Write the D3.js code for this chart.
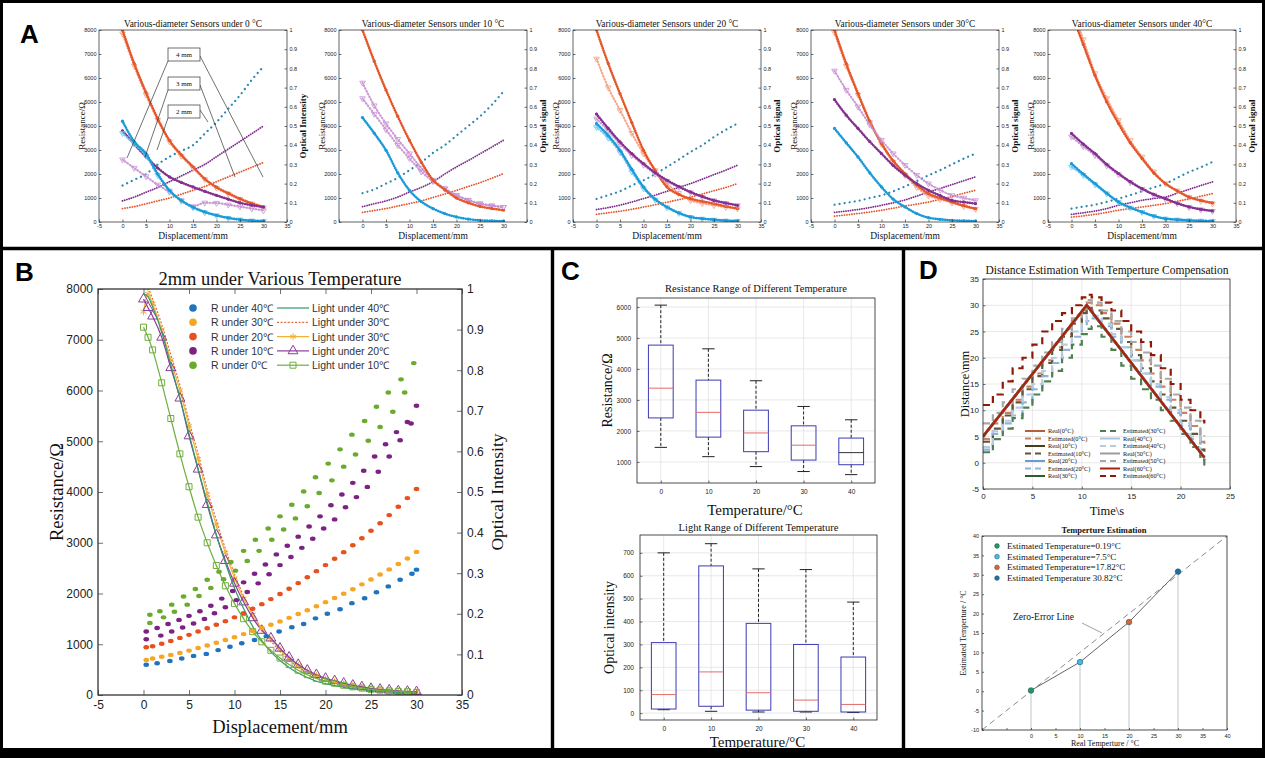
<!DOCTYPE html>
<html>
<head>
<meta charset="utf-8">
<script src="https://cdn.jsdelivr.net/npm/d3@7/dist/d3.min.js"></script>
<style>
  body { margin: 0; background: #fff; }
  svg { display: block; }
</style>
</head>
<body>
<svg id="fig" width="1265" height="758"></svg>
<script>
'use strict';

// ---------- panel A data: resistance (ohm) and optical signal (0-1) ----------
const dispA = [0, 2.5, 5, 7.5, 10, 12.5, 15, 17.5, 20, 22.5, 25, 27.5, 30];
const tempsA = ['0 °C', '10 °C', '20 °C', '30°C', '40°C'];
const rightLabelsA = ['Optical Intensity', 'Optical signal', 'Optical signal', 'Optical signal', 'Optical signal'];

const a0Orange  = [8000, 6600, 5400, 4300, 3400, 2800, 2300, 1800, 1450, 1200, 970, 780, 630];
const a0OrangeL = [7850, 6500, 5300, 4250, 3350, 2750, 2250, 1780, 1420, 1170, 940, 760, 600];
const a0Purple  = [3800, 3250, 2720, 2250, 1880, 1650, 1460, 1280, 1110, 950, 800, 700, 620];
const a0PurpleL = [2600, 2250, 1900, 1550, 1250, 900, 650, 800, 790, 720, 640, 560, 480];
const a0Blue    = [4200, 3350, 2850, 2000, 1320, 900, 620, 420, 280, 170, 100, 60, 40];
const a0BlueL   = [3700, 3250, 2750, 1950, 1300, 880, 600, 400, 270, 160, 95, 55, 35];
const a0RiseBlue   = [0.19, 0.22, 0.25, 0.30, 0.34, 0.37, 0.40, 0.46, 0.52, 0.59, 0.66, 0.74, 0.81];
const a0RisePurple = [0.11, 0.13, 0.155, 0.18, 0.21, 0.24, 0.27, 0.30, 0.34, 0.38, 0.42, 0.46, 0.50];
const a0RiseOrange = [0.07, 0.08, 0.095, 0.11, 0.125, 0.145, 0.165, 0.185, 0.21, 0.235, 0.26, 0.285, 0.31];

const a1Orange  = [8000, 6700, 5500, 4400, 3400, 2500, 1750, 1350, 1000, 800, 650, 560, 490];
const a1PurpleL = [5800, 4850, 4100, 3450, 2850, 2250, 1750, 1400, 1120, 920, 770, 680, 620];
const a1PurpleL2 = [5150, 4500, 3850, 3200, 2650, 2100, 1700, 1380, 1100, 900, 760, 680, 620];
const a1Blue    = [4350, 3700, 2990, 2050, 1320, 850, 560, 350, 210, 120, 70, 50, 40];
const a1RiseBlue   = [0.15, 0.17, 0.20, 0.23, 0.27, 0.31, 0.36, 0.40, 0.45, 0.50, 0.55, 0.61, 0.68];
const a1RisePurple = [0.08, 0.095, 0.11, 0.13, 0.156, 0.18, 0.21, 0.25, 0.287, 0.32, 0.355, 0.39, 0.426];
const a1RiseOrange = [0.05, 0.06, 0.07, 0.083, 0.096, 0.11, 0.128, 0.146, 0.165, 0.185, 0.205, 0.228, 0.252];

const a2Orange  = [8000, 6600, 5350, 4150, 2990, 2150, 1460, 1150, 970, 860, 765, 650, 560];
const a2OrangeL = [6800, 5600, 4660, 3700, 2850, 2150, 1600, 1200, 900, 780, 695, 620, 560];
const a2Purple  = [4500, 3900, 3340, 2850, 2430, 2050, 1740, 1480, 1250, 1060, 900, 790, 695];
const a2PurpleL = [4300, 3800, 3250, 2780, 2380, 2000, 1700, 1450, 1230, 1040, 890, 780, 690];
const a2Blue    = [4100, 3600, 2990, 2200, 1460, 950, 626, 380, 210, 140, 97, 60, 42];
const a2BlueL   = [3950, 3500, 2900, 2100, 1400, 920, 600, 370, 200, 130, 90, 55, 40];
const a2RiseBlue   = [0.12, 0.14, 0.16, 0.19, 0.217, 0.25, 0.287, 0.325, 0.365, 0.40, 0.443, 0.48, 0.513];
const a2RisePurple = [0.065, 0.075, 0.088, 0.104, 0.122, 0.14, 0.16, 0.18, 0.20, 0.223, 0.247, 0.27, 0.296];
const a2RiseOrange = [0.04, 0.048, 0.056, 0.066, 0.078, 0.09, 0.103, 0.116, 0.13, 0.146, 0.163, 0.18, 0.20];

const a3Orange  = [8000, 6600, 5360, 4200, 3270, 2550, 2020, 1550, 1180, 1000, 835, 680, 556];
const a3OrangeL = [7900, 6500, 5300, 4150, 3250, 2500, 1950, 1450, 1100, 950, 800, 650, 540];
const a3PurpleL = [6300, 5500, 4800, 4050, 3410, 2850, 2370, 1950, 1600, 1330, 1110, 1000, 900];
const a3Purple  = [5100, 4450, 3900, 3350, 2850, 2350, 1950, 1600, 1320, 1100, 900, 830, 765];
const a3Blue    = [3900, 3300, 2710, 2050, 1460, 950, 626, 350, 180, 110, 70, 50, 42];
const a3RiseBlue   = [0.09, 0.10, 0.11, 0.125, 0.139, 0.16, 0.185, 0.213, 0.243, 0.27, 0.30, 0.33, 0.356];
const a3RisePurple = [0.05, 0.057, 0.065, 0.075, 0.087, 0.10, 0.115, 0.135, 0.156, 0.175, 0.195, 0.215, 0.235];
const a3RiseOrange = [0.03, 0.037, 0.044, 0.052, 0.061, 0.072, 0.083, 0.093, 0.104, 0.118, 0.133, 0.15, 0.165];

const a4OrangeL = [9000, 7600, 6190, 5150, 4240, 3400, 2710, 2100, 1600, 1300, 1040, 880, 765];
const a4Orange  = [8700, 7400, 6100, 5000, 4100, 3300, 2650, 2050, 1600, 1300, 1040, 900, 800];
const a4Purple  = [3690, 3250, 2850, 2400, 2020, 1680, 1390, 1150, 970, 780, 630, 530, 460];
const a4PurpleL = [3550, 3150, 2780, 2350, 1980, 1650, 1370, 1130, 950, 770, 620, 520, 450];
const a4Blue    = [2430, 2000, 1600, 1200, 835, 600, 417, 250, 139, 100, 70, 50, 42];
const a4BlueL   = [2300, 1950, 1560, 1180, 820, 590, 410, 245, 135, 95, 65, 48, 40];
const a4RiseBlue   = [0.07, 0.08, 0.09, 0.105, 0.122, 0.14, 0.16, 0.18, 0.20, 0.23, 0.26, 0.285, 0.313];
const a4RisePurple = [0.04, 0.048, 0.057, 0.07, 0.087, 0.10, 0.113, 0.122, 0.13, 0.15, 0.17, 0.19, 0.209];
const a4RiseOrange = [0.025, 0.032, 0.04, 0.05, 0.061, 0.07, 0.078, 0.087, 0.096, 0.108, 0.12, 0.134, 0.148];

// ---------- panel B data ----------
const dispB = [0, 0.5, 1, 2, 3, 4, 5, 6, 7, 8, 9, 10, 11, 12, 13, 14, 15, 16, 17, 18, 19, 20, 21, 22, 23, 24, 25, 26, 27, 28, 29, 30];
const ltB40  = [0.988, 0.981, 0.956, 0.894, 0.813, 0.731, 0.644, 0.556, 0.475, 0.394, 0.325, 0.263, 0.213, 0.169, 0.134, 0.106, 0.085, 0.068, 0.054, 0.043, 0.034, 0.028, 0.023, 0.019, 0.015, 0.013, 0.011, 0.009, 0.008, 0.006, 0.005, 0.004];
const ltB30d = [1.0, 1.0, 0.975, 0.913, 0.838, 0.763, 0.675, 0.594, 0.506, 0.431, 0.360, 0.298, 0.244, 0.200, 0.163, 0.133, 0.108, 0.086, 0.069, 0.055, 0.045, 0.036, 0.030, 0.025, 0.021, 0.017, 0.014, 0.012, 0.010, 0.008, 0.007, 0.006];
const ltB30x = [0.944, 0.988, 0.963, 0.900, 0.825, 0.750, 0.663, 0.581, 0.494, 0.419, 0.350, 0.288, 0.238, 0.198, 0.163, 0.138, 0.113, 0.090, 0.073, 0.059, 0.048, 0.039, 0.033, 0.027, 0.023, 0.019, 0.016, 0.013, 0.011, 0.009, 0.008, 0.007];
const ltB20  = [0.975, 0.954, 0.933, 0.881, 0.806, 0.731, 0.638, 0.556, 0.469, 0.394, 0.331, 0.275, 0.229, 0.190, 0.159, 0.140, 0.115, 0.093, 0.075, 0.061, 0.050, 0.041, 0.035, 0.029, 0.024, 0.020, 0.016, 0.014, 0.012, 0.010, 0.009, 0.008];
const ltB10  = [0.906, 0.881, 0.850, 0.769, 0.681, 0.594, 0.513, 0.438, 0.375, 0.319, 0.269, 0.225, 0.188, 0.156, 0.131, 0.110, 0.091, 0.075, 0.061, 0.050, 0.041, 0.034, 0.029, 0.024, 0.020, 0.017, 0.014, 0.012, 0.010, 0.009, 0.008, 0.006];

const xR1 = [0.3, 1, 2, 3, 4, 5, 6, 7, 8, 9, 10, 11, 12, 13, 14, 15, 16, 17, 18, 19, 20, 21, 22, 23, 24, 25, 26, 27, 28, 29, 30];
const rB30 = [690, 720, 755, 790, 830, 875, 925, 975, 1030, 1085, 1140, 1200, 1260, 1320, 1385, 1450, 1520, 1595, 1670, 1750, 1830, 1910, 1995, 2085, 2180, 2275, 2375, 2475, 2580, 2690, 2820];
const rB20 = [940, 960, 1010, 1065, 1125, 1185, 1250, 1315, 1385, 1455, 1530, 1610, 1700, 1790, 1890, 1990, 2095, 2205, 2320, 2440, 2560, 2685, 2815, 2950, 3090, 3235, 3385, 3545, 3710, 3880, 4060];
const rB40 = [[0.3, 595], [1.5, 625], [2.9, 670], [4.2, 720], [5.5, 770], [6.9, 810], [8.2, 885], [9.5, 950], [10.8, 1020], [12.2, 1085], [13.5, 1160], [14.9, 1250], [16.3, 1335], [17.6, 1400], [18.9, 1510], [20.2, 1600], [21.6, 1690], [22.9, 1810], [24.3, 1905], [25.6, 2025], [26.9, 2140], [28.2, 2270], [29.5, 2390], [30, 2470]];
const rB10 = [[0.3, 1250], [0.3, 1100], [1.5, 1320], [1.9, 1170], [2.7, 1400], [3.1, 1250], [3.9, 1480], [4.3, 1330], [5.0, 1560], [5.5, 1410], [6.2, 1650], [6.7, 1500], [7.4, 1760], [7.8, 1610], [8.6, 1900], [9.0, 1730], [9.8, 2050], [10.2, 1870], [11.0, 2220], [11.4, 2030], [12.2, 2390], [12.6, 2200], [13.4, 2570], [13.8, 2380], [14.6, 2770], [15.0, 2560], [15.8, 2940], [16.2, 2720], [17.0, 3120], [17.4, 2900], [18.2, 3320], [18.6, 3080], [19.4, 3520], [19.8, 3280], [20.6, 3740], [21.0, 3460], [21.8, 3950], [22.2, 3700], [23.0, 4180], [23.4, 3900], [24.2, 4420], [24.6, 4100], [25.4, 4700], [25.8, 4400], [26.6, 4940], [27.0, 4700], [27.8, 5180], [28.2, 5020], [29.0, 5380], [29.4, 5350], [30.0, 5700]];
const rB0 = [[0.7, 1580], [0.7, 1420], [1.8, 1650], [2.2, 1530], [3.1, 1780], [3.4, 1640], [4.4, 1940], [4.8, 1780], [5.7, 2090], [6.1, 1950], [7.0, 2270], [7.4, 2110], [8.3, 2430], [8.8, 2280], [9.6, 2620], [10.1, 2450], [11.0, 2840], [11.4, 2640], [12.3, 3060], [12.7, 2840], [13.7, 3280], [14.1, 3060], [15.0, 3520], [15.4, 3260], [16.3, 3750], [16.7, 3480], [17.6, 4010], [18.0, 3720], [18.9, 4290], [19.3, 3980], [20.3, 4560], [20.7, 4230], [21.6, 4840], [22.0, 4500], [22.9, 5130], [23.3, 4740], [24.3, 5400], [24.7, 5010], [25.6, 5680], [26.0, 5280], [26.9, 5960], [27.4, 5580], [28.3, 6220], [28.7, 5960], [29.7, 6540]];

// ---------- panel C data ----------
const tempC = [0, 10, 20, 30, 40];
const resLow  = [1470, 1170, 850, 690, 590];
const resQ1   = [2420, 1800, 1330, 1060, 910];
const resMed  = [3380, 2600, 1935, 1540, 1300];
const resQ3   = [4770, 3640, 2670, 2165, 1770];
const resHigh = [6060, 4650, 3620, 2790, 2360];
const litLow  = [15, 8, 5, 5, 3];
const litQ1   = [18, 30, 13, 8, 5];
const litMed  = [81, 180, 89, 57, 38];
const litQ3   = [308, 643, 392, 300, 245];
const litHigh = [700, 740, 630, 627, 485];

// ---------- panel D data ----------
const timeReal = [0, 10.5, 22.4];
const distReal = [5, 30, 1];
const timeEst = [0, 1, 2, 3, 4, 5, 6, 7, 8, 9, 10, 10.5, 11, 12, 13, 14, 15, 16, 17, 18, 19, 20, 21, 22, 22.4];
const est0  = [4.5, 7.5, 9.5, 12, 14.5, 17, 19.5, 22, 24.5, 27, 29, 30.5, 30, 28.5, 26.5, 24, 21.5, 19.5, 17, 14.5, 12, 9.5, 7, 4, 2.5];
const est10 = [4, 6.5, 9, 11.5, 14, 16.5, 19, 21.5, 24, 26.5, 28.5, 29.5, 29, 27.5, 25.5, 23, 20.5, 18, 15.5, 13, 10.5, 8, 5.5, 2.5, 1.5];
const est20 = [2.5, 5.5, 7.5, 9, 11.5, 14, 16.5, 19, 21.5, 24, 26, 27, 27.5, 26, 24, 22, 19.5, 17, 14.5, 12, 9.5, 7, 4.5, 1.5, 0.5];
const est30 = [2, 4.5, 6.5, 8.5, 10.5, 13, 15.5, 17.5, 20, 22.5, 24.5, 25.5, 26, 24, 21.5, 18.5, 16, 14, 12, 10, 8, 5.5, 3, 0.5, -0.5];
const est40 = [3, 6, 8, 10.5, 13, 15, 17.5, 20, 22.5, 25, 27, 28, 28, 26.5, 24.5, 22, 19.5, 17, 15, 12.5, 10, 7.5, 5, 2, 1];
const est50 = [7.5, 9.5, 11.5, 14, 16, 18.5, 21, 23, 25.5, 27.5, 29.5, 31, 30.5, 29, 27, 25, 23, 21, 18.5, 16, 13, 10.5, 8, 5.5, 5];
const est60 = [11, 13, 15.5, 18, 20, 22.5, 25, 27, 28.5, 30, 31.5, 32, 31.5, 30.5, 29, 27, 25, 23, 20.5, 18, 15, 12, 10, 8, 7.5];
const realTemp = [0, 10, 20, 30];
const estTemp = [0.19, 7.5, 17.82, 30.82];
const estTempLabels = ['Estimated Temperature=0.19°C', 'Estimated Temperature=7.5°C', 'Estimated Temperature=17.82°C', 'Estimated Temperature 30.82°C'];

// ---------- helpers ----------
const SERIF = '"Liberation Serif","Times New Roman",serif';
const SANS = '"Liberation Sans",Arial,sans-serif';
const svg = d3.select('#fig');
const plain = d => String(d).replace('\u2212', '-');

function label(g, x, y, str, size, o = {}) {
  const t = g.append('text').attr('x', x).attr('y', y).attr('font-size', size)
    .attr('font-family', o.family || SERIF).attr('text-anchor', o.anchor || 'middle')
    .attr('fill', o.fill || '#111').text(str);
  if (o.rotate) t.attr('transform', `rotate(${o.rotate},${x},${y})`);
  if (o.weight) t.attr('font-weight', o.weight);
  return t;
}
function styleAxis(sel, fs, ff) {
  sel.select('.domain').remove();
  sel.selectAll('text').attr('font-size', fs).attr('font-family', ff).attr('fill', '#222');
  sel.selectAll('line').attr('stroke', '#333').attr('stroke-width', 0.7);
}
function frame(g, x, y, sw) {
  const [x0, x1] = x.range(), [y0, y1] = y.range();
  g.append('rect').attr('x', x0).attr('y', y1).attr('width', x1 - x0).attr('height', y0 - y1)
    .attr('fill', 'none').attr('stroke', '#222').attr('stroke-width', sw);
}
function clip(g, id, x, y) {
  const [x0, x1] = x.range(), [y0, y1] = y.range();
  g.append('clipPath').attr('id', id).append('rect')
    .attr('x', x0).attr('y', y1).attr('width', x1 - x0).attr('height', y0 - y1);
  return g.append('g').attr('clip-path', `url(#${id})`);
}
const fmtFrac = d => (d === 0 ? '0' : Math.abs(d - 1) < 1e-9 ? '1' : d3.format('.1f')(d));

// ---------- figure frame ----------
svg.append('rect').attr('x', 1.5).attr('y', 1.5).attr('width', 1262).attr('height', 752)
  .attr('fill', 'none').attr('stroke', '#000').attr('stroke-width', 3);
svg.append('rect').attr('x', 0).attr('y', 748).attr('width', 1265).attr('height', 10).attr('fill', '#000');
svg.append('line').attr('x1', 0).attr('x2', 1265).attr('y1', 248.5).attr('y2', 248.5).attr('stroke', '#000').attr('stroke-width', 3.4);
svg.append('line').attr('x1', 552.5).attr('x2', 552.5).attr('y1', 247).attr('y2', 758).attr('stroke', '#000').attr('stroke-width', 3.4);
svg.append('line').attr('x1', 903.5).attr('x2', 903.5).attr('y1', 247).attr('y2', 758).attr('stroke', '#000').attr('stroke-width', 3.4);

[['A', 20, 43], ['B', 15, 281], ['C', 561, 280], ['D', 919, 279]].forEach(([t, x, y]) =>
  label(svg, x, y, t, 26, { family: SANS, anchor: 'start', weight: 'bold', fill: '#000' }));

// ---------- panel A ----------
const decayStyle = {
  o:  { c: '#e5562a', mk: 'dot' },
  oL: { c: '#f4a07f', mk: 'tri' },
  p:  { c: '#84308f', mk: 'dot' },
  pL: { c: '#c892d2', mk: 'tri' },
  b:  { c: '#1a9bd8', mk: 'dot' },
  bL: { c: '#6cc5ee', mk: 'tri' }
};
const riseStyle = [
  { c: '#e5562a', dash: '0.1 2.4', w: 1.8 },
  { c: '#7d2a8c', dash: '0.1 2.2', w: 1.8 },
  { c: '#2a88ad', dash: '0.1 5', w: 2.2 }
];
const seriesA = [
  { decay: [['oL', a0OrangeL], ['o', a0Orange], ['pL', a0PurpleL], ['p', a0Purple], ['bL', a0BlueL], ['b', a0Blue]], rise: [a0RiseOrange, a0RisePurple, a0RiseBlue] },
  { decay: [['pL', a1PurpleL], ['pL', a1PurpleL2], ['o', a1Orange], ['b', a1Blue]], rise: [a1RiseOrange, a1RisePurple, a1RiseBlue] },
  { decay: [['oL', a2OrangeL], ['o', a2Orange], ['pL', a2PurpleL], ['p', a2Purple], ['bL', a2BlueL], ['b', a2Blue]], rise: [a2RiseOrange, a2RisePurple, a2RiseBlue] },
  { decay: [['oL', a3OrangeL], ['o', a3Orange], ['pL', a3PurpleL], ['p', a3Purple], ['b', a3Blue]], rise: [a3RiseOrange, a3RisePurple, a3RiseBlue] },
  { decay: [['oL', a4OrangeL], ['o', a4Orange], ['pL', a4PurpleL], ['p', a4Purple], ['bL', a4BlueL], ['b', a4Blue]], rise: [a4RiseOrange, a4RisePurple, a4RiseBlue] }
];
const aLeft = [99, 339, 573, 811, 1048];

seriesA.forEach((s, k) => {
  const L = aLeft[k];
  const x = d3.scaleLinear().domain([-5, 35]).range([L, L + 188]);
  const y = d3.scaleLinear().domain([0, 8000]).range([222, 30]);
  const y2 = d3.scaleLinear().domain([0, 1]).range([222, 30]);
  const g = svg.append('g');
  const plot = clip(g, 'clipA' + k, x, y);

  const lineL = d3.line().x((d, i) => x(dispA[i])).y(d => y(d)).curve(d3.curveMonotoneX);
  const lineR = d3.line().x((d, i) => x(dispA[i])).y(d => y2(d)).curve(d3.curveMonotoneX);

  s.rise.forEach((vals, j) => {
    const st = riseStyle[j];
    plot.append('path').datum(vals).attr('d', lineR).attr('fill', 'none').attr('stroke', st.c)
      .attr('stroke-width', st.w).attr('stroke-dasharray', st.dash).attr('stroke-linecap', 'round');
  });

  s.decay.forEach(([key, vals]) => {
    const st = decayStyle[key];
    plot.append('path').datum(vals).attr('d', lineL).attr('fill', 'none').attr('stroke', st.c).attr('stroke-width', 0.8);
    plot.append('path').datum(vals).attr('d', lineL).attr('fill', 'none').attr('stroke', st.c)
      .attr('stroke-width', st.mk === 'dot' ? 2.6 : 2.4).attr('stroke-dasharray', st.mk === 'dot' ? '0.1 2.3' : '0.1 3')
      .attr('stroke-linecap', 'round').attr('opacity', st.mk === 'dot' ? 1 : 0.85);
    if (st.mk === 'tri') {
      plot.selectAll(null).data(vals).join('path')
        .attr('d', d3.symbol(d3.symbolTriangle, 14))
        .attr('transform', (d, i) => `translate(${x(dispA[i])},${y(d)}) rotate(180)`)
        .attr('fill', 'none').attr('stroke', st.c).attr('stroke-width', 0.8);
    } else {
      plot.selectAll(null).data(vals).join('circle')
        .attr('cx', (d, i) => x(dispA[i])).attr('cy', d => y(d)).attr('r', 1.6).attr('fill', st.c);
    }
  });

  frame(g, x, y, 0.7);
  const hideEnds = k === 1;
  g.append('g').attr('transform', 'translate(0,222)')
    .call(d3.axisBottom(x).tickValues(d3.range(-5, 36, 5)).tickSize(-2.5).tickSizeOuter(0).tickPadding(2.5)
      .tickFormat(d => (hideEnds && (d === -5 || d === 35)) ? '' : plain(d)))
    .call(a => styleAxis(a, 5.5, SANS));
  g.append('g').attr('transform', `translate(${L},0)`)
    .call(d3.axisLeft(y).tickValues(d3.range(0, 8001, 1000)).tickSize(-2.5).tickSizeOuter(0).tickPadding(2.5).tickFormat(plain))
    .call(a => styleAxis(a, 5.5, SANS));
  g.append('g').attr('transform', `translate(${L + 188},0)`)
    .call(d3.axisRight(y2).tickValues(d3.range(0, 1.001, 0.1)).tickSize(-2.5).tickSizeOuter(0).tickPadding(2.5).tickFormat(fmtFrac))
    .call(a => styleAxis(a, 5.5, SANS));

  label(g, L + 94, 27, 'Various-diameter Sensors under ' + tempsA[k], 9.3);
  label(g, L + 94, 239, 'Displacement/mm', 9.5);
  label(g, L - 14, 126, 'Resistance/Ω', 9, { rotate: -90 });
  label(g, L + 207, 126, rightLabelsA[k], 9, { rotate: -90, weight: 'bold' });

  if (k === 0) {
    const boxes = [['4 mm', 48], ['3 mm', 77], ['2 mm', 105]];
    const leaders = [
      [[168, 61], [127, 158], [200, 56], [263, 177]],
      [[168, 90], [145, 157], [200, 85], [235, 177]],
      [[168, 118], [157, 150], [200, 110], [208, 122]]
    ];
    leaders.forEach(l => {
      g.append('line').attr('x1', l[0][0]).attr('y1', l[0][1]).attr('x2', l[1][0]).attr('y2', l[1][1]).attr('stroke', '#333').attr('stroke-width', 0.7);
      g.append('line').attr('x1', l[2][0]).attr('y1', l[2][1]).attr('x2', l[3][0]).attr('y2', l[3][1]).attr('stroke', '#333').attr('stroke-width', 0.7);
    });
    boxes.forEach(([t, by]) => {
      g.append('rect').attr('x', 168).attr('y', by).attr('width', 32).attr('height', 13)
        .attr('fill', '#fff').attr('stroke', '#333').attr('stroke-width', 0.7);
      label(g, 184, by + 9, t, 7);
    });
  }
});

// ---------- panel B ----------
(function () {
  const g = svg.append('g');
  const x = d3.scaleLinear().domain([-5, 35]).range([98, 462]);
  const y = d3.scaleLinear().domain([0, 8000]).range([695, 289]);
  const y2 = d3.scaleLinear().domain([0, 1]).range([695, 289]);
  const plot = clip(g, 'clipB', x, y);

  const lights = [
    { v: ltB30d, c: '#e26a3c', dash: '2 1.6', mk: null },
    { v: ltB30x, c: '#f2b134', dash: null, mk: 'x' },
    { v: ltB20, c: '#8b3c9b', dash: null, mk: 'tri' },
    { v: ltB40, c: '#2f9a6b', dash: null, mk: null },
    { v: ltB10, c: '#6fae3d', dash: null, mk: 'sq' }
  ];
  const symFor = { tri: d3.symbol(d3.symbolTriangle, 42), sq: d3.symbol(d3.symbolSquare, 36), x: d3.symbol(d3.symbolAsterisk, 34) };
  const line = d3.line().x((d, i) => x(dispB[i])).y(d => y2(d)).curve(d3.curveMonotoneX);
  lights.forEach(s => {
    plot.append('path').datum(s.v).attr('d', line).attr('fill', 'none').attr('stroke', s.c)
      .attr('stroke-width', 1.2).attr('stroke-dasharray', s.dash);
    if (s.mk) {
      plot.selectAll(null).data(s.v).join('path').attr('d', symFor[s.mk])
        .attr('transform', (d, i) => `translate(${x(dispB[i])},${y2(d)})`)
        .attr('fill', 'none').attr('stroke', s.c).attr('stroke-width', 1);
    }
  });

  const dotSets = [
    { pts: rB40, c: '#1f74bd' },
    { pts: rB30.map((v, i) => [xR1[i], v]), c: '#f5a623' },
    { pts: rB20.map((v, i) => [xR1[i], v]), c: '#e8501d' },
    { pts: rB10, c: '#7b2282' },
    { pts: rB0, c: '#6aab2e' }
  ];
  dotSets.forEach(s => {
    plot.selectAll(null).data(s.pts).join('ellipse')
      .attr('cx', d => x(d[0])).attr('cy', d => y(d[1])).attr('rx', 2.8).attr('ry', 2.2).attr('fill', s.c);
  });

  frame(g, x, y, 1.2);
  g.append('g').attr('transform', 'translate(0,695)')
    .call(d3.axisBottom(x).tickValues(d3.range(-5, 36, 5)).tickSize(-5).tickSizeOuter(0).tickPadding(5).tickFormat(plain))
    .call(a => styleAxis(a, 12, SANS));
  g.append('g').attr('transform', 'translate(0,289)')
    .call(d3.axisTop(x).tickValues(d3.range(-5, 36, 5)).tickSize(-5).tickSizeOuter(0).tickFormat(() => ''))
    .call(a => styleAxis(a, 12, SANS));
  g.append('g').attr('transform', 'translate(98,0)')
    .call(d3.axisLeft(y).tickValues(d3.range(0, 8001, 1000)).tickSize(-5).tickSizeOuter(0).tickPadding(5).tickFormat(plain))
    .call(a => styleAxis(a, 12, SANS));
  g.append('g').attr('transform', 'translate(462,0)')
    .call(d3.axisRight(y2).tickValues(d3.range(0, 1.001, 0.1)).tickSize(-5).tickSizeOuter(0).tickPadding(5).tickFormat(fmtFrac))
    .call(a => styleAxis(a, 12, SANS));

  label(g, 280, 285, '2mm under Various Temperature', 18.5);
  label(g, 280, 733, 'Displacement/mm', 18.5);
  label(g, 63, 492, 'Resistance/Ω', 18.5, { rotate: -90 });
  label(g, 503, 492, 'Optical Intensity', 17.5, { rotate: -90 });

  // legend
  const rNames = ['R under 40℃', 'R under 30℃', 'R under 20℃', 'R under 10℃', 'R under 0℃'];
  const lNames = ['Light under 40℃', 'Light under 30℃', 'Light under 30℃', 'Light under 20℃', 'Light under 10℃'];
  const legLights = [lights[3], lights[0], lights[1], lights[2], lights[4]];
  rNames.forEach((t, i) => {
    const ly = 308 + i * 14.3;
    g.append('circle').attr('cx', 193).attr('cy', ly).attr('r', 3.8).attr('fill', dotSets[i].c);
    label(g, 211, ly + 4, t, 10.5, { family: SANS, anchor: 'start', fill: '#333' });
    const s = legLights[i];
    g.append('line').attr('x1', 277).attr('x2', 309).attr('y1', ly).attr('y2', ly)
      .attr('stroke', s.c).attr('stroke-width', 1.2).attr('stroke-dasharray', s.dash);
    if (s.mk) {
      g.append('path').attr('d', symFor[s.mk]).attr('transform', `translate(293,${ly})`)
        .attr('fill', 'none').attr('stroke', s.c).attr('stroke-width', 1);
    }
    label(g, 312, ly + 4, lNames[i], 10.5, { family: SANS, anchor: 'start', fill: '#333' });
  });
})();

// ---------- panel C ----------
function boxPanel(o) {
  const g = svg.append('g');
  const x = d3.scaleLinear().domain([-5, 45]).range(o.xr);
  const y = d3.scaleLinear().domain(o.yd).range(o.yr);
  // grid
  g.selectAll(null).data(o.yt).join('line').attr('x1', o.xr[0]).attr('x2', o.xr[1])
    .attr('y1', d => y(d)).attr('y2', d => y(d)).attr('stroke', '#e2e2e2').attr('stroke-width', 0.8);
  g.selectAll(null).data(tempC).join('line').attr('y1', o.yr[0]).attr('y2', o.yr[1])
    .attr('x1', d => x(d)).attr('x2', d => x(d)).attr('stroke', '#e2e2e2').attr('stroke-width', 0.8);
  const hw = 2.6;
  tempC.forEach((t, i) => {
    g.append('line').attr('x1', x(t)).attr('x2', x(t)).attr('y1', y(o.high[i])).attr('y2', y(o.q3[i]))
      .attr('stroke', '#222').attr('stroke-width', 1).attr('stroke-dasharray', '3 2');
    g.append('line').attr('x1', x(t)).attr('x2', x(t)).attr('y1', y(o.q1[i])).attr('y2', y(o.low[i]))
      .attr('stroke', '#222').attr('stroke-width', 1).attr('stroke-dasharray', '3 2');
    [o.high[i], o.low[i]].forEach(v => g.append('line').attr('x1', x(t - hw / 2)).attr('x2', x(t + hw / 2))
      .attr('y1', y(v)).attr('y2', y(v)).attr('stroke', '#222').attr('stroke-width', 1));
    g.append('rect').attr('x', x(t - hw)).attr('width', x(t + hw) - x(t - hw))
      .attr('y', y(o.q3[i])).attr('height', y(o.q1[i]) - y(o.q3[i]))
      .attr('fill', 'none').attr('stroke', '#3b3bb3').attr('stroke-width', 1);
    g.append('line').attr('x1', x(t - hw)).attr('x2', x(t + hw)).attr('y1', y(o.med[i])).attr('y2', y(o.med[i]))
      .attr('stroke', o.medColors[i]).attr('stroke-width', 1);
  });
  frame(g, x, y, 0.8);
  g.append('g').attr('transform', `translate(0,${o.yr[0]})`)
    .call(d3.axisBottom(x).tickValues(tempC).tickSize(-2.5).tickSizeOuter(0).tickPadding(6).tickFormat(plain))
    .call(a => styleAxis(a, 6.5, SANS));
  g.append('g').attr('transform', `translate(${o.xr[0]},0)`)
    .call(d3.axisLeft(y).tickValues(o.yt).tickSize(-2.5).tickSizeOuter(0).tickPadding(6).tickFormat(plain))
    .call(a => styleAxis(a, 6.5, SANS));
  const cx = (o.xr[0] + o.xr[1]) / 2;
  label(g, cx, o.titleY, o.title, 10.5);
  label(g, cx - 1, o.xlabY, 'Temperature/°C', 15);
  label(g, o.ylabX, (o.yr[0] + o.yr[1]) / 2, o.ylab, 14, { rotate: -90 });
}
boxPanel({ xr: [637, 875], yr: [483, 298], yd: [320, 6290], yt: [1000, 2000, 3000, 4000, 5000, 6000],
  low: resLow, q1: resQ1, med: resMed, q3: resQ3, high: resHigh,
  medColors: ['#e46a6a', '#e46a6a', '#e46a6a', '#e46a6a', '#333'],
  title: 'Resistance Range of Different Temperature', titleY: 292, xlabY: 515, ylab: 'Resistance/Ω', ylabX: 612 });
boxPanel({ xr: [640, 877], yr: [720, 535], yd: [-30, 778], yt: [0, 100, 200, 300, 400, 500, 600, 700],
  low: litLow, q1: litQ1, med: litMed, q3: litQ3, high: litHigh,
  medColors: ['#e46a6a', '#e46a6a', '#e46a6a', '#e46a6a', '#e46a6a'],
  title: 'Light Range of Different Temperature', titleY: 531, xlabY: 747, ylab: 'Optical intensity', ylabX: 614 });

// ---------- panel D top ----------
(function () {
  const g = svg.append('g');
  const x = d3.scaleLinear().domain([0, 25]).range([983, 1230]);
  const y = d3.scaleLinear().domain([-5, 35]).range([489, 279]);
  g.selectAll(null).data(d3.range(5, 25, 5)).join('line').attr('x1', d => x(d)).attr('x2', d => x(d))
    .attr('y1', 279).attr('y2', 489).attr('stroke', '#e3e3e3').attr('stroke-width', 0.8);
  g.selectAll(null).data(d3.range(0, 35, 5)).join('line').attr('y1', d => y(d)).attr('y2', d => y(d))
    .attr('x1', 983).attr('x2', 1230).attr('stroke', '#e3e3e3').attr('stroke-width', 0.8);
  const plot = clip(g, 'clipD', x, y);

  const series = [
    { name: 'Real(0°C)', t: timeReal, v: distReal, c: '#b5603a', est: false },
    { name: 'Estimated(0°C)', t: timeEst, v: est0, c: '#c9805f', est: true },
    { name: 'Real(10°C)', t: timeReal, v: distReal, c: '#4a3b1f', est: false },
    { name: 'Estimated(10°C)', t: timeEst, v: est10, c: '#5e5636', est: true },
    { name: 'Real(20°C)', t: timeReal, v: distReal, c: '#6c9bd2', est: false },
    { name: 'Estimated(20°C)', t: timeEst, v: est20, c: '#8db3dc', est: true },
    { name: 'Real(30°C)', t: timeReal, v: distReal, c: '#2e5e2f', est: false },
    { name: 'Estimated(30°C)', t: timeEst, v: est30, c: '#4f7f4f', est: true },
    { name: 'Real(40°C)', t: timeReal, v: distReal, c: '#a7c5e3', est: false },
    { name: 'Estimated(40°C)', t: timeEst, v: est40, c: '#b4cbe2', est: true },
    { name: 'Real(50°C)', t: timeReal, v: distReal, c: '#9c9c9c', est: false },
    { name: 'Estimated(50°C)', t: timeEst, v: est50, c: '#a8a8a8', est: true },
    { name: 'Real(60°C)', t: timeReal, v: distReal, c: '#a6250f', est: false },
    { name: 'Estimated(60°C)', t: timeEst, v: est60, c: '#8e1a05', est: true }
  ];
  series.filter(s => s.est).forEach(s => {
    const ln = d3.line().x((d, i) => x(s.t[i])).y(d => y(d)).curve(d3.curveStepAfter);
    plot.append('path').datum(s.v).attr('d', ln).attr('fill', 'none').attr('stroke', s.c)
      .attr('stroke-width', 2.2).attr('stroke-dasharray', '7 5');
  });
  series.filter(s => !s.est).forEach(s => {
    const ln = d3.line().x((d, i) => x(s.t[i])).y(d => y(d));
    plot.append('path').datum(s.v).attr('d', ln).attr('fill', 'none').attr('stroke', s.c).attr('stroke-width', 2.4);
  });

  frame(g, x, y, 0.8);
  g.append('g').attr('transform', 'translate(0,489)')
    .call(d3.axisBottom(x).tickValues(d3.range(0, 26, 5)).tickSize(-2.5).tickSizeOuter(0).tickPadding(4).tickFormat(plain))
    .call(a => styleAxis(a, 8, SANS));
  g.append('g').attr('transform', 'translate(983,0)')
    .call(d3.axisLeft(y).tickValues(d3.range(-5, 36, 5)).tickSize(-2.5).tickSizeOuter(0).tickPadding(4).tickFormat(plain))
    .call(a => styleAxis(a, 8, SANS));

  series.forEach((s, i) => {
    const col = i < 7 ? 0 : 1;
    const row = i % 7;
    const lx = col === 0 ? 1025 : 1100;
    const ly = 431 + row * 7.5;
    g.append('line').attr('x1', lx).attr('x2', lx + 20).attr('y1', ly).attr('y2', ly)
      .attr('stroke', s.c).attr('stroke-width', 2).attr('stroke-dasharray', s.est ? '6 4' : null);
    label(g, lx + 23, ly + 2.3, s.name, 6.3, { anchor: 'start' });
  });

  label(g, 1107, 274, 'Distance Estimation With Temperture Compensation', 11.5);
  label(g, 1107, 515, 'Time\\s', 12.5);
  label(g, 969, 384, 'Distance\\mm', 12.5, { rotate: -90 });
})();

// ---------- panel D bottom ----------
(function () {
  const g = svg.append('g');
  const x = d3.scaleLinear().domain([-10, 40]).range([982, 1227]);
  const y = d3.scaleLinear().domain([-10, 40]).range([730, 536]);
  const cols = ['#1e9a5b', '#3cbde6', '#e2622b', '#1c6fa8'];
  const plot = clip(g, 'clipD2', x, y);
  plot.append('line').attr('x1', x(-10)).attr('y1', y(-10)).attr('x2', x(40)).attr('y2', y(40))
    .attr('stroke', '#8a8a8a').attr('stroke-width', 1).attr('stroke-dasharray', '6 4');
  realTemp.forEach((t, i) => plot.append('line').attr('x1', x(t)).attr('x2', x(t))
    .attr('y1', y(estTemp[i])).attr('y2', y(-10)).attr('stroke', '#c4c4c4').attr('stroke-width', 1));
  plot.append('path').datum(estTemp)
    .attr('d', d3.line().x((d, i) => x(realTemp[i])).y(d => y(d)))
    .attr('fill', 'none').attr('stroke', '#666').attr('stroke-width', 1);
  plot.selectAll(null).data(estTemp).join('circle')
    .attr('cx', (d, i) => x(realTemp[i])).attr('cy', d => y(d)).attr('r', 2.8)
    .attr('fill', (d, i) => cols[i]).attr('stroke', '#2a5a6a').attr('stroke-width', 0.6);

  frame(g, x, y, 0.8);
  g.append('g').attr('transform', 'translate(0,730)')
    .call(d3.axisBottom(x).tickValues(d3.range(-10, 41, 5)).tickSize(-2).tickSizeOuter(0).tickPadding(4)
      .tickFormat(d => d < 0 ? '' : plain(d)))
    .call(a => styleAxis(a, 5.5, SANS));
  g.append('g').attr('transform', 'translate(982,0)')
    .call(d3.axisLeft(y).tickValues(d3.range(-10, 41, 5)).tickSize(-2).tickSizeOuter(0).tickPadding(3).tickFormat(plain))
    .call(a => styleAxis(a, 5.5, SANS));

  estTempLabels.forEach((t, i) => {
    const ly = 546 + i * 10.7;
    g.append('circle').attr('cx', 997).attr('cy', ly).attr('r', 2.4).attr('fill', cols[i]).attr('stroke', '#2a5a6a').attr('stroke-width', 0.5);
    label(g, 1007, ly + 3, t, 9, { anchor: 'start' });
  });
  label(g, 1013, 620, 'Zero-Error Line', 9.5, { anchor: 'start' });
  g.append('line').attr('x1', 1082).attr('y1', 623).attr('x2', 1102).attr('y2', 633).attr('stroke', '#777').attr('stroke-width', 0.7);

  label(g, 1104, 533, 'Temperture Estimation', 8.5, { weight: 'bold' });
  label(g, 1105, 746, 'Real Temperture / °C', 8);
  label(g, 966, 633, 'Estimated Temperture / °C', 8, { rotate: -90 });
})();
</script>
</body>
</html>
